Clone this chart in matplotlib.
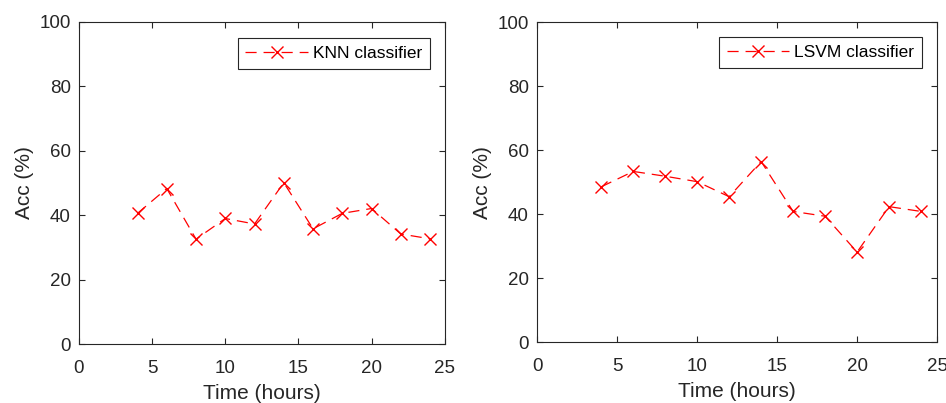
import matplotlib.pyplot as plt

# Data
hours = [4, 6, 8, 10, 12, 14, 16, 18, 20, 22, 24]
knn_acc = [40.6, 48.3, 32.6, 39.0, 37.3, 50.1, 35.8, 40.6, 42.1, 34.2, 32.7]
lsvm_acc = [48.6, 53.4, 51.9, 50.2, 45.5, 56.5, 40.9, 39.4, 28.2, 42.4, 40.9]

x_ticks = [0, 5, 10, 15, 20, 25]
y_ticks = [0, 20, 40, 60, 80, 100]

plt.rcParams['font.family'] = ['Liberation Sans', 'DejaVu Sans']
plt.rcParams['lines.scale_dashes'] = False

text_col = '#262626'
red = '#ff0000'

fig = plt.figure(figsize=(9.46, 4.03), dpi=100)
ax1 = fig.add_axes([0.0835, 0.1457, 0.3866, 0.8003])
ax2 = fig.add_axes([0.568, 0.1506, 0.4225, 0.794])


def draw_panel(ax, values, label, leg_anchor):
    ax.plot(hours, values, color=red, linestyle='--', dashes=(8, 5),
            linewidth=0.9, marker='x', markersize=8, markeredgewidth=1.0,
            label=label)
    ax.set_xlim(0, 25)
    ax.set_ylim(0, 100)
    ax.set_xticks(x_ticks)
    ax.set_yticks(y_ticks)
    ax.tick_params(direction='in', top=True, right=True, length=4,
                   width=0.8, colors=text_col, labelsize=13.5)
    ax.tick_params(axis='x', pad=11)
    ax.tick_params(axis='y', pad=6)
    for s in ax.spines.values():
        s.set_color(text_col)
        s.set_linewidth(0.8)
    ax.set_xlabel('Time (hours)', fontsize=15, color=text_col, labelpad=5)
    ax.set_ylabel('Acc (%)', fontsize=15, color=text_col, labelpad=4)
    leg = ax.legend(loc='upper right', bbox_to_anchor=leg_anchor,
                    fontsize=12.5, handlelength=3.6, numpoints=1,
                    fancybox=False, framealpha=1, borderpad=0.45,
                    handletextpad=0.3, borderaxespad=0)
    leg.get_frame().set_edgecolor(text_col)
    leg.get_frame().set_linewidth(0.8)
    for t in leg.get_texts():
        t.set_color('black')


draw_panel(ax1, knn_acc, 'KNN classifier', (0.96, 0.95))
draw_panel(ax2, lsvm_acc, 'LSVM classifier', (0.963, 0.955))

fig.savefig('out.png', dpi=100)
